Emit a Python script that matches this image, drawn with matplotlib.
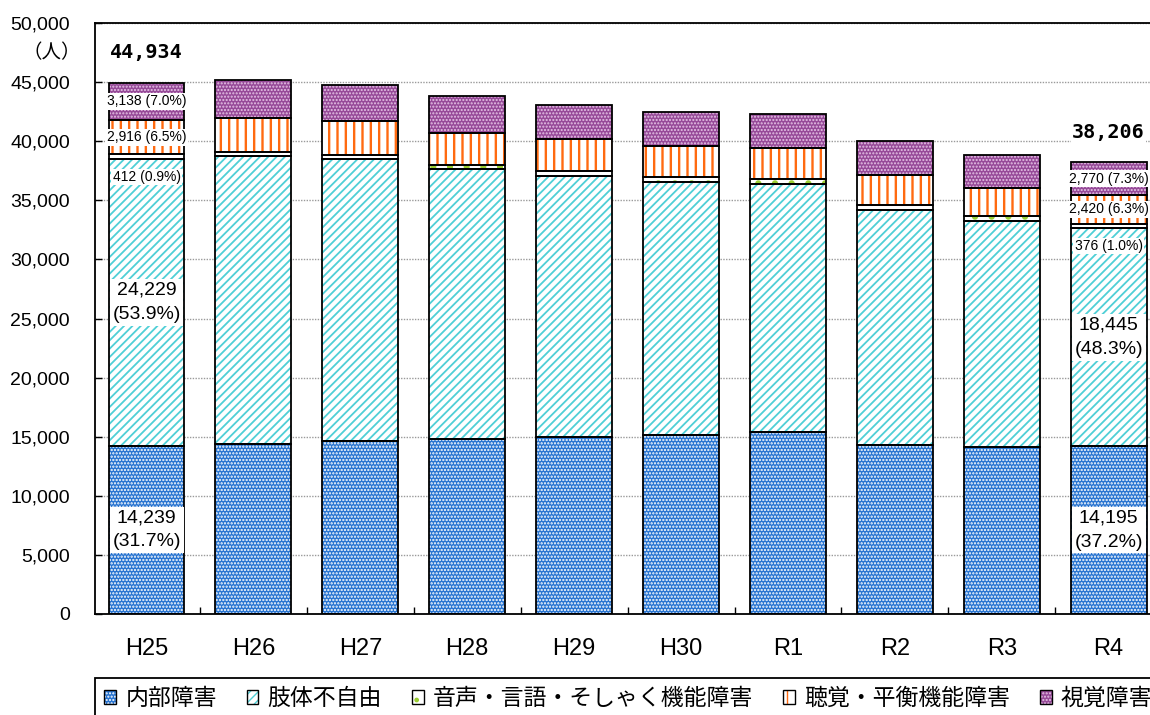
import matplotlib
matplotlib.use('Agg')
import matplotlib.pyplot as plt
import matplotlib.patches as mpatches
from matplotlib.legend_handler import HandlerTuple
from matplotlib.font_manager import FontProperties
import numpy as np

plt.rcParams['font.family'] = ['Liberation Sans', 'Noto Sans CJK JP']

# Number of certificate holders by disability type (people)
years = ['H25', 'H26', 'H27', 'H28', 'H29', 'H30', 'R1', 'R2', 'R3', 'R4']
internal = [14239, 14420, 14670, 14840, 15010, 15120, 15370, 14270, 14160, 14195]
limb = [24229, 24290, 23790, 22770, 22040, 21420, 21030, 19930, 19090, 18445]
speech = [412, 400, 410, 400, 400, 390, 380, 390, 380, 376]
hearing = [2916, 2880, 2820, 2710, 2730, 2650, 2610, 2590, 2450, 2420]
visual = [3138, 3150, 3040, 3070, 2900, 2850, 2880, 2870, 2790, 2770]

series_names = ['内部障害', '肢体不自由', '音声・言語・そしゃく機能障害',
                '聴覚・平衡機能障害', '視覚障害']
yticks = list(range(0, 50001, 5000))

# face colour, hatch, hatch colour, hatch linewidth
styles = [
    ('#2673d0', '.....', 'white', 1.1),
    ('white', '////', '#4fcfd6', 1.3),
    ('white', '.', '#9acd32', 2.0),
    ('white', '||', '#ff6a10', 1.7),
    ('#964a98', '.....', '#e6c4e6', 1.0),
]

data = np.array([internal, limb, speech, hearing, visual])
totals = data.sum(axis=0)
x = np.arange(len(years))
width = 0.71

fig = plt.figure(figsize=(11.5, 7.15), dpi=100)
ax = fig.add_axes([95/1150, 1-614/715, 1065/1150, 591/715])

bottom = np.zeros(len(years))
handles = []
for vals, (face, hatch, hcol, hlw) in zip(data, styles):
    # hatch layer first, then a plain black outline on top
    with plt.rc_context({'hatch.linewidth': hlw}):
        ax.bar(x, vals, width, bottom=bottom, color=face, hatch=hatch,
               edgecolor=hcol, linewidth=0, zorder=2)
        h_fill = mpatches.Patch(facecolor=face, hatch=hatch, edgecolor=hcol, linewidth=0)
    ax.bar(x, vals, width, bottom=bottom, fill=False, edgecolor='black',
           linewidth=1.3, zorder=3)
    h_edge = mpatches.Patch(fill=False, edgecolor='black', linewidth=1.0)
    handles.append((h_fill, h_edge))
    bottom += vals

ax.set_xlim(-0.482, 9.48)
ax.set_ylim(0, 50000)

ax.set_yticks(yticks)
ax.set_yticklabels([f'{v:,}' for v in yticks], fontsize=14)
ax.tick_params(axis='y', direction='in', length=5, width=1, pad=18)

ax.set_xticks(x)
ax.set_xticklabels(years, fontsize=17,
                   family=['Liberation Sans Narrow', 'Liberation Sans'])
ax.tick_params(axis='x', which='major', length=0, pad=17)
ax.set_xticks(x[:-1] + 0.5, minor=True)
ax.tick_params(axis='x', which='minor', direction='in', length=5, width=1)

ax.set_axisbelow(True)
ax.yaxis.grid(True, linestyle=(0, (1, 1)), color='#9a9a9a', linewidth=1)
for side in ['left', 'bottom', 'top', 'right']:
    ax.spines[side].set_linewidth(1.3)
    ax.spines[side].set_color('black')

small_box = dict(facecolor='white', edgecolor='none', pad=1.0)
big_box = dict(facecolor='white', edgecolor='none', pad=2.0)

# value labels on the first and last bars
for i in [0, len(years) - 1]:
    tot = totals[i]
    pct = lambda v: v / tot * 100
    b_limb = internal[i]
    b_speech = b_limb + limb[i]
    b_hear = b_speech + speech[i]
    b_vis = b_hear + hearing[i]

    ax.text(x[i], internal[i] / 2, f'{internal[i]:,}\n({pct(internal[i]):.1f}%)',
            ha='center', va='center', fontsize=14, linespacing=1.55,
            bbox=big_box, zorder=5)
    ax.text(x[i], b_limb + limb[i] / 2, f'{limb[i]:,}\n({pct(limb[i]):.1f}%)',
            ha='center', va='center', fontsize=14, linespacing=1.55,
            bbox=big_box, zorder=5)
    ax.text(x[i], b_speech - 1500, f'{speech[i]:,} ({pct(speech[i]):.1f}%)',
            ha='center', va='center', fontsize=10, bbox=small_box, zorder=5)
    ax.text(x[i], b_hear + hearing[i] / 2, f'{hearing[i]:,} ({pct(hearing[i]):.1f}%)',
            ha='center', va='center', fontsize=10, bbox=small_box, zorder=5)
    ax.text(x[i], b_vis + visual[i] / 2, f'{visual[i]:,} ({pct(visual[i]):.1f}%)',
            ha='center', va='center', fontsize=10, bbox=small_box, zorder=5)
    ax.text(x[i], tot + 2550, f'{tot:,}', ha='center', va='center',
            fontsize=14.5, fontweight='bold',
            family=['DejaVu Sans Mono'], bbox=small_box, zorder=5)

fig.text(52/1150, 1 - 53/715, '（人）', ha='center', va='center', fontsize=14,
         family=['Noto Sans CJK JP'])

leg = fig.legend(handles, series_names, loc='upper left',
                 bbox_to_anchor=(95/1150, 1 - 678/715), ncol=5,
                 frameon=True, fancybox=False, framealpha=1, edgecolor='black',
                 borderaxespad=0, borderpad=0.4,
                 prop=FontProperties(family='Noto Sans CJK JP', size=16.5),
                 handlelength=0.52, handleheight=0.52, handletextpad=0.4,
                 columnspacing=1.3,
                 handler_map={tuple: HandlerTuple(ndivide=1)})
leg.get_frame().set_linewidth(1.3)

fig.savefig('out.png', dpi=100)
